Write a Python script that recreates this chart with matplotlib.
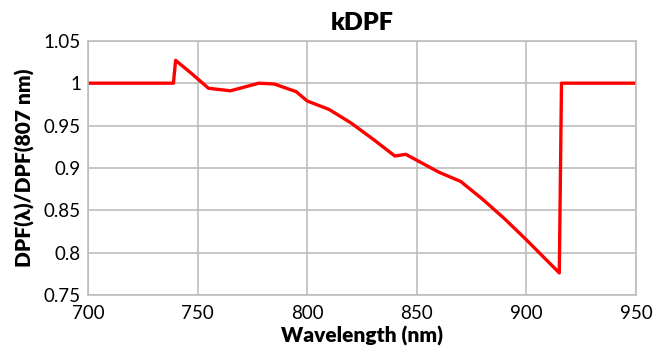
import matplotlib
matplotlib.use("Agg")
from matplotlib import pyplot as plt

# wavelength (nm) and relative DPF
wavelength = [700, 739, 740, 747, 755, 765, 778, 785, 795, 800, 810, 820, 830,
              840, 845, 850, 860, 870, 880, 890, 900, 915, 916, 950]
kdpf = [1.0, 1.0, 1.027, 1.012, 0.994, 0.991, 1.0, 0.999, 0.990, 0.979, 0.969,
        0.953, 0.934, 0.914, 0.916, 0.909, 0.895, 0.884, 0.863, 0.840, 0.815,
        0.776, 1.0, 1.0]

xticks = [700, 750, 800, 850, 900, 950]
yticks = [0.75, 0.8, 0.85, 0.9, 0.95, 1.0, 1.05]
yticklabels = ["0.75", "0.8", "0.85", "0.9", "0.95", "1", "1.05"]

plt.rcParams['font.family'] = ['Lato', 'DejaVu Sans']

fig = plt.figure(figsize=(6.66, 3.49), dpi=100)
ax = fig.add_axes([0.132, 0.155, 0.823, 0.728])

ax.plot(wavelength, kdpf, color="#ff0000", linewidth=2.4)

ax.set_xlim(700, 950)
ax.set_ylim(0.75, 1.05)
ax.set_xticks(xticks)
ax.set_yticks(yticks)
ax.set_yticklabels(yticklabels)
ax.tick_params(length=0, labelsize=13.5)
ax.tick_params(axis="x", pad=7)
ax.tick_params(axis="y", pad=5)
ax.grid(True, color="#bdbdbd", linewidth=1.2)
ax.set_axisbelow(True)
for s in ax.spines.values():
    s.set_color("#bdbdbd")
    s.set_linewidth(1.2)

ax.set_xlabel("Wavelength (nm)", fontsize=15, fontweight="heavy", labelpad=3)
ax.set_ylabel("DPF(\u03bb)/DPF(807 nm)", fontsize=15, fontweight="heavy", labelpad=6)
ax.set_title("kDPF", fontsize=18, fontweight="heavy", pad=8)

plt.savefig("out.png", dpi=100)
